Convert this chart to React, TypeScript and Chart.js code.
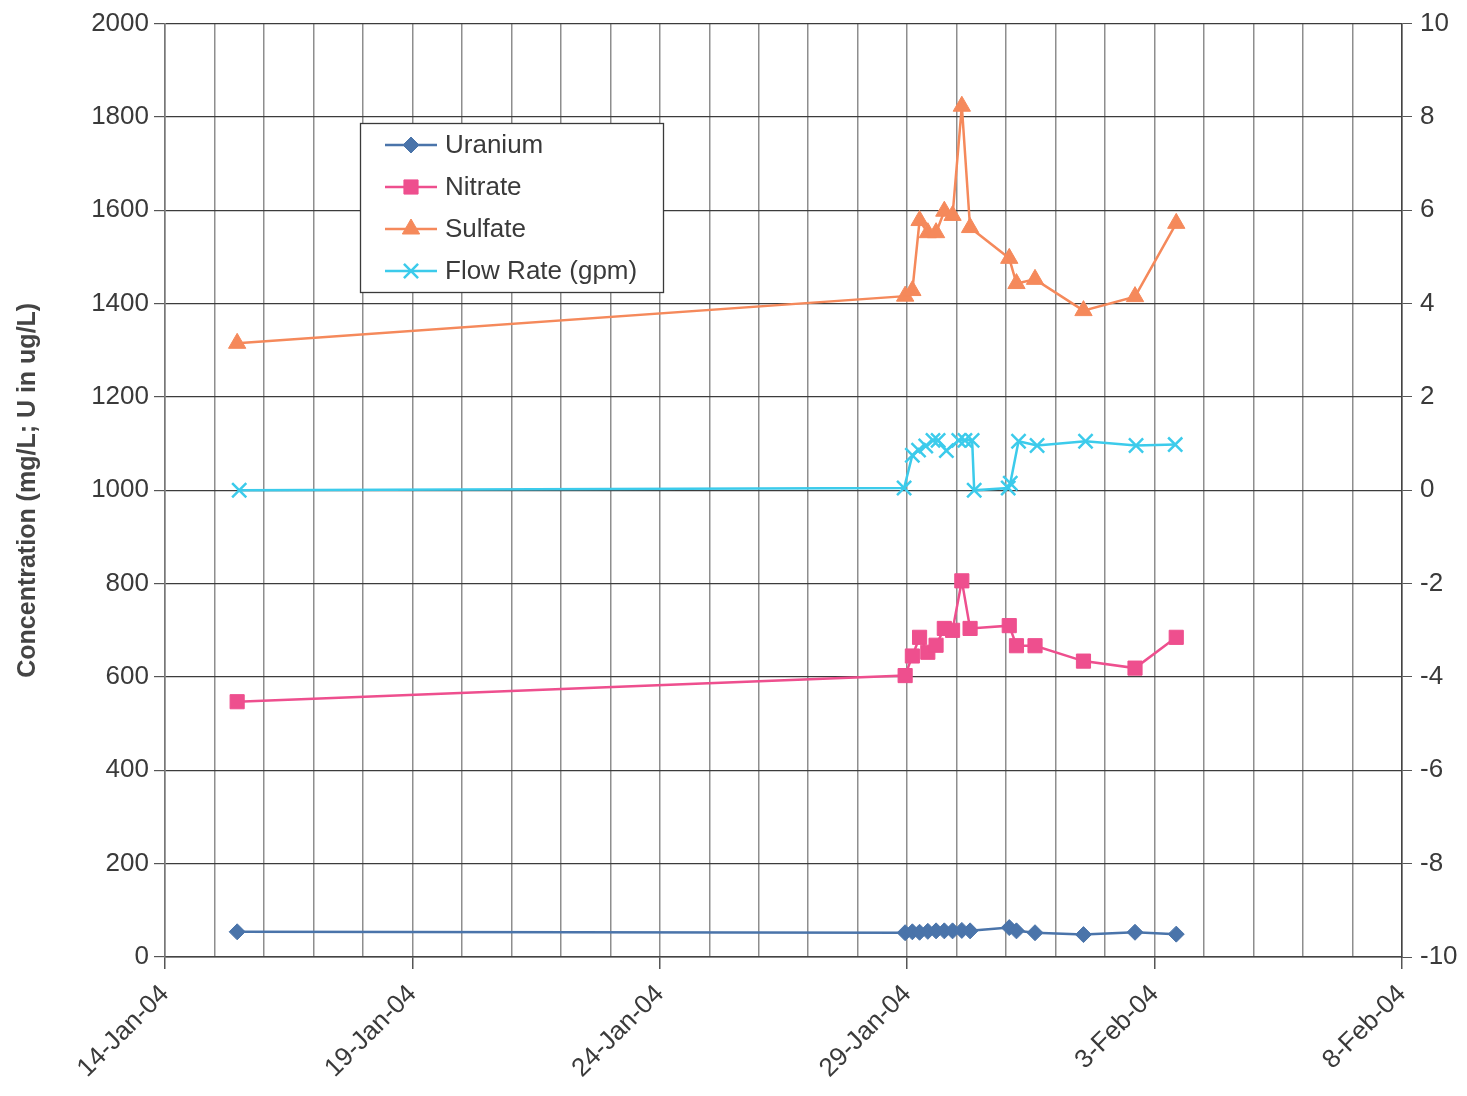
import React, { useEffect, useRef } from 'react';
import { Chart, registerables } from 'chart.js';
import { drawPoint } from 'chart.js/helpers';

Chart.register(...registerables);

// ---- data ----
const seriesNames = ['Uranium', 'Nitrate', 'Sulfate', 'Flow Rate (gpm)'];

const sampleDates = [
  '2004-01-15T11:00', '2004-01-28T23:00', '2004-01-29T02:30', '2004-01-29T06:00',
  '2004-01-29T10:00', '2004-01-29T14:00', '2004-01-29T18:00', '2004-01-29T22:00',
  '2004-01-30T02:30', '2004-01-30T06:30', '2004-01-31T01:30', '2004-01-31T05:00',
  '2004-01-31T14:00', '2004-02-01T13:30', '2004-02-02T14:30', '2004-02-03T10:30',
];
const uranium = [54, 52, 54, 53, 55, 56, 56, 56, 57, 56, 63, 56, 52, 48, 53, 49];
const nitrate = [547, 603, 645, 685, 653, 668, 704, 700, 806, 704, 710, 667, 667, 634, 619, 685];
const sulfate = [1315, 1416, 1428, 1578, 1552, 1552, 1598, 1589, 1823, 1563, 1497, 1443, 1452, 1385, 1415, 1572];

const flowDates = [
  '2004-01-15T12:00', '2004-01-28T22:30', '2004-01-29T02:30', '2004-01-29T05:30',
  '2004-01-29T09:00', '2004-01-29T12:30', '2004-01-29T15:00', '2004-01-29T19:00',
  '2004-01-30T01:00', '2004-01-30T04:00', '2004-01-30T07:30', '2004-01-30T08:30',
  '2004-01-31T01:00', '2004-01-31T02:00', '2004-01-31T06:00', '2004-01-31T15:00',
  '2004-02-01T14:30', '2004-02-02T15:00', '2004-02-03T10:00',
];
const flowRate = [0.0, 0.05, 0.75, 0.86, 0.95, 1.07, 1.07, 0.85, 1.07, 1.07, 1.07, 0.0, 0.05, 0.15, 1.05, 0.96, 1.05, 0.96, 0.98];

const xTickDates = ['2004-01-14', '2004-01-19', '2004-01-24', '2004-01-29', '2004-02-03', '2004-02-08'];
const leftAxis = { min: 0, max: 2000, step: 200 };
const rightAxis = { min: -10, max: 10, step: 2 };

const colors = ['#4a74aa', '#ee4f8e', '#f5895b', '#3ccbeb'];
const MONTHS = ['Jan', 'Feb', 'Mar', 'Apr', 'May', 'Jun', 'Jul', 'Aug', 'Sep', 'Oct', 'Nov', 'Dec'];

const FONT = '"Liberation Sans", Arial, Helvetica, sans-serif';
const TEXT = '#3a3a3a';

const originMs = Date.parse(xTickDates[0] + 'T00:00Z');
const dayOf = (s: string) => (Date.parse((s.length === 10 ? s + 'T00:00' : s) + 'Z') - originMs) / 86400000;
const labelDays = xTickDates.map(dayOf);
const fmtDay = (v: number) => {
  const d = new Date(originMs + v * 86400000);
  return `${d.getUTCDate()}-${MONTHS[d.getUTCMonth()]}-${String(d.getUTCFullYear()).slice(2)}`;
};

const boxLegend = {
  id: 'boxLegend',
  afterDraw(chart: any) {
    const ctx = chart.ctx;
    const x0 = 360, y0 = 123, w = 303, h = 169;
    ctx.save();
    ctx.fillStyle = '#ffffff';
    ctx.fillRect(x0, y0, w, h);
    ctx.strokeStyle = '#3a3a3a';
    ctx.lineWidth = 1.3;
    ctx.strokeRect(x0 + 0.5, y0 + 0.5, w, h);
    chart.data.datasets.forEach((ds: any, i: number) => {
      const cy = y0 + 22 + i * 42;
      ctx.strokeStyle = ds.borderColor;
      ctx.lineWidth = 2.5;
      ctx.beginPath();
      ctx.moveTo(x0 + 25, cy);
      ctx.lineTo(x0 + 77, cy);
      ctx.stroke();
      ctx.fillStyle = ds.pointBackgroundColor;
      ctx.strokeStyle = ds.pointBorderColor;
      ctx.lineWidth = ds.pointBorderWidth;
      drawPoint(ctx, { pointStyle: ds.pointStyle, radius: ds.pointRadius, rotation: 0, borderWidth: ds.pointBorderWidth }, x0 + 51, cy);
      ctx.fillStyle = TEXT;
      ctx.font = `26px ${FONT}`;
      ctx.textBaseline = 'middle';
      ctx.textAlign = 'left';
      ctx.fillText(ds.label, x0 + 85, cy + 1);
    });
    ctx.restore();
  },
};

export default function App() {
  const ref = useRef<HTMLCanvasElement | null>(null);

  useEffect(() => {
    if (!ref.current) return;
    const sx = sampleDates.map(dayOf);
    const fx = flowDates.map(dayOf);
    const mk = (label: string, xs: number[], ys: number[], color: string, style: string, radius: number, bw: number, axis: string) => ({
      label,
      data: xs.map((x, i) => ({ x, y: ys[i] })),
      yAxisID: axis,
      borderColor: color,
      backgroundColor: color,
      borderWidth: 2.5,
      pointStyle: style,
      pointRadius: radius,
      pointBackgroundColor: color,
      pointBorderColor: color,
      pointBorderWidth: bw,
      tension: 0,
    });

    const chart = new Chart(ref.current, {
      type: 'line',
      data: {
        datasets: [
          mk(seriesNames[0], sx, uranium, colors[0], 'rectRot', 8, 1, 'y'),
          mk(seriesNames[1], sx, nitrate, colors[1], 'rect', 10, 1, 'y'),
          mk(seriesNames[2], sx, sulfate, colors[2], 'triangle', 10, 1, 'y'),
          mk(seriesNames[3], fx, flowRate, colors[3], 'crossRot', 10, 2.5, 'y1'),
        ] as any,
      },
      options: {
        responsive: false,
        animation: false,
        layout: { padding: 0 },
        plugins: { legend: { display: false }, tooltip: { enabled: false } },
        font: { family: FONT },
        scales: {
          x: {
            type: 'linear',
            min: labelDays[0],
            max: labelDays[labelDays.length - 1],
            ticks: {
              stepSize: 1,
              autoSkip: false,
              minRotation: 45,
              maxRotation: 45,
              color: TEXT,
              font: { family: FONT, size: 26 },
              padding: 10,
              callback: (v: any) => (labelDays.some((d) => Math.abs(d - v) < 1e-6) ? fmtDay(v) : ''),
            },
            grid: {
              color: '#8e8e8e',
              lineWidth: 1.5,
              tickLength: 12,
              tickColor: (c: any) => (c.tick && labelDays.some((d) => Math.abs(d - c.tick.value) < 1e-6) ? '#555' : 'rgba(0,0,0,0)'),
            },
            border: { color: '#444', width: 1.5 },
            afterFit: (s: any) => { s.height = 139; },
          },
          y: {
            position: 'left',
            min: leftAxis.min,
            max: leftAxis.max,
            ticks: {
              stepSize: leftAxis.step,
              color: TEXT,
              font: { family: FONT, size: 26 },
              padding: 5,
              callback: (v: any) => String(v),
            },
            grid: { color: '#3c3c3c', lineWidth: 1.2, tickLength: 11, tickColor: '#555' },
            border: { color: '#777', width: 1.5 },
            title: {
              display: true,
              text: 'Concentration (mg/L; U in ug/L)',
              color: '#444',
              font: { family: FONT, size: 25, weight: 'bold' },
              padding: { top: 13, bottom: 0 },
            },
            afterFit: (s: any) => { s.width = 165; },
          },
          y1: {
            position: 'right',
            min: rightAxis.min,
            max: rightAxis.max,
            ticks: {
              stepSize: rightAxis.step,
              color: TEXT,
              font: { family: FONT, size: 26 },
              padding: 8,
              callback: (v: any) => String(v),
            },
            grid: { drawOnChartArea: false, tickLength: 10, tickColor: '#555' },
            border: { color: '#444', width: 1.5 },
            afterFit: (s: any) => { s.width = 65; },
          },
        },
      } as any,
      plugins: [boxLegend],
    });
    return () => chart.destroy();
  }, []);

  return (
    <div style={{ position: 'absolute', left: 0, top: 0, width: 1467, height: 1096, background: '#fff' }}>
      <canvas ref={ref} width={1467} height={1096} />
    </div>
  );
}
